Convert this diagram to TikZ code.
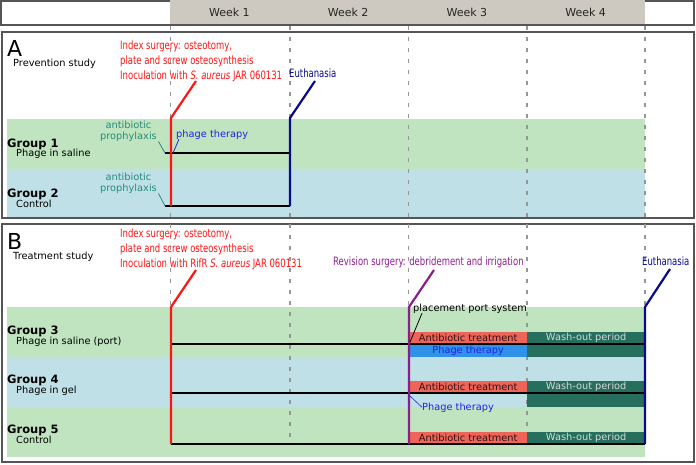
\documentclass[tikz,border=0pt]{standalone}
\usepackage{fontspec}
\setmainfont{DejaVu Sans}
\newfontfamily\narrowfont[FakeStretch=0.82]{DejaVu Sans Condensed}
\usepackage{xcolor}
\usepackage{tikz}
\usetikzlibrary{positioning}
\definecolor{framegray}{RGB}{85,85,85}
\definecolor{headgray}{RGB}{205,201,192}
\definecolor{rulegray}{RGB}{150,150,150}
\definecolor{bandgreen}{RGB}{192,228,192}
\definecolor{bandblue}{RGB}{191,224,230}
\definecolor{evred}{RGB}{255,20,20}
\definecolor{evnavy}{RGB}{10,10,140}
\definecolor{evpurple}{RGB}{140,30,140}
\definecolor{abteal}{RGB}{40,140,125}
\definecolor{phtext}{RGB}{35,35,225}
\definecolor{abxred}{RGB}{238,100,88}
\definecolor{abxtext}{RGB}{50,20,20}
\definecolor{phageblue}{RGB}{48,145,232}
\definecolor{washgreen}{RGB}{38,110,94}
\definecolor{washtext}{RGB}{215,215,215}
\tikzset{
  frame/.style={draw=framegray, line width=1.3pt},
  weeklbl/.style={font=\fontsize{11}{13}\selectfont, text=black!85},
  weekrule/.style={draw=rulegray, line width=1.6pt, dash pattern=on 4pt off 7pt},
  paneltag/.style={anchor=west, inner sep=0pt, font=\fontsize{22}{24}\selectfont},
  study/.style={anchor=base west, inner sep=0pt, font=\fontsize{9.8}{11}\selectfont},
  grp/.style={anchor=base west, inner sep=0pt, font=\fontsize{11.5}{12}\selectfont\bfseries},
  grpsub/.style={anchor=base west, inner sep=0pt, font=\fontsize{9.8}{11}\selectfont},
  evtext/.style={anchor=north west, inner sep=0pt, align=left,
    font=\narrowfont\fontsize{11.5}{15}\selectfont},
  evlbl/.style={anchor=base west, inner sep=0pt, font=\narrowfont\fontsize{11.5}{15}\selectfont},
  evline/.style={line width=2.2pt},
  tline/.style={line width=2.2pt, draw=black},
  note/.style={inner sep=0pt, font=\fontsize{9.8}{11}\selectfont},
  lead/.style={line width=0.8pt},
  boxx/.style={inner sep=0pt, minimum width=118pt, minimum height=12pt,
    font=\fontsize{9.8}{11}\selectfont, anchor=south west},
  abx/.style={boxx, fill=abxred, text=abxtext},
  phbox/.style={boxx, fill=phageblue, text=phtext, minimum height=13pt, anchor=north west},
  wash/.style={boxx, fill=washgreen, text=washtext},
}
\begin{document}
\begin{tikzpicture}[x=1pt, y=-1pt]
\useasboundingbox (0,0) rectangle (696,464);

% header with weeks
\draw[frame] (1,1) rectangle (694,25);
\fill[headgray] (170,0) rectangle (645,24.3);
\foreach \w in {1,...,4}
  \node[weeklbl] (wk\w) at ({170+118.75*(\w-0.5)},12.5) {Week \w};

% panels and group bands
\draw[frame] (2,32) rectangle (694,218);
\draw[frame] (2,224) rectangle (694,462);
\fill[bandgreen] (7,119) rectangle (645,169);
\fill[bandblue] (7,169) rectangle (645,217.3);
\fill[bandgreen] (7,307) rectangle (645,357);
\fill[bandblue] (7,357) rectangle (645,407);
\fill[bandgreen] (7,407) rectangle (645,457);
\foreach \x in {170.5,290,408.5,527,645}
  \draw[weekrule] (\x,26) -- (\x,444);

% A: prevention study
\node[paneltag] (tagA) at (7,48) {A};
\node[study] (studyA) at (13,66) {Prevention study};
\node[grp] (grp1) at (7,147) {Group 1};
\node[grpsub] (sub1) at (16,156.5) {Phage in saline};
\node[grp] (grp2) at (7,197.5) {Group 2};
\node[grpsub] (sub2) at (16,207) {Control};

\node[evtext, text=evred] (idxtxtA) at (120,40.3)
  {Index surgery: osteotomy,\\plate and screw osteosynthesis\\
   Inoculation with \textit{S. aureus} JAR 060131};
\node[evlbl, text=evnavy] (euthA) at (289,77) {Euthanasia};
\node[note, text=abteal, anchor=north, align=center] (abpA1) at (128.5,120.6)
  {antibiotic\\prophylaxis};
\node[note, text=abteal, anchor=north, align=center] (abpA2) at (128.5,172.6)
  {antibiotic\\prophylaxis};
\node[note, text=phtext, anchor=base west] (phA) at (176,137) {phage therapy};

\coordinate (g1a) at (165,153);
\coordinate (g1b) at (290,153);
\coordinate (g2a) at (165,206);
\coordinate (g2b) at (290,206);
\coordinate (idxA) at (196,81);
\coordinate (idxAk) at (171,118);
\coordinate (euA) at (315,81);
\coordinate (euAk) at (290,118);

\draw[tline] (g1a) -- (g1b);
\draw[tline] (g2a) -- (g2b);
\draw[lead, abteal] ([xshift=1.5pt]abpA1.south east) -- (g1a);
\draw[lead, abteal] ([xshift=1.5pt]abpA2.south east) -- (g2a);
\draw[evline, evred] (idxA) -- (idxAk) -- (idxAk |- g2a);
\draw[evline, evnavy] (euA) -- (euAk) -- (g2b);
\draw[lead, phtext] ([xshift=3pt]phA.south west) -- (173,153);

% B: treatment study
\node[paneltag] (tagB) at (7,241) {B};
\node[study] (studyB) at (13,259) {Treatment study};
\node[grp] (grp3) at (7,334.5) {Group 3};
\node[grpsub] (sub3) at (16,344) {Phage in saline (port)};
\node[grp] (grp4) at (7,383.5) {Group 4};
\node[grpsub] (sub4) at (16,393) {Phage in gel};
\node[grp] (grp5) at (7,433.5) {Group 5};
\node[grpsub] (sub5) at (16,443) {Control};

\node[evtext, text=evred] (idxtxtB) at (120,228.3)
  {Index surgery: osteotomy,\\plate and screw osteosynthesis\\
   Inoculation with RifR \textit{S. aureus} JAR 060131};
\node[evlbl, text=evpurple] (revtxt) at (333,265)
  {Revision surgery: debridement and irrigation};
\node[evlbl, text=evnavy] (euthB) at (642,265) {Euthanasia};

\node[abx] (abx3) at (409,344) {Antibiotic treatment};
\node[phbox] (ph3) at (409,344) {Phage therapy};
\node[wash] (wo3) at (527,344) {Wash-out period};
\node[wash, anchor=north west, minimum height=13pt] (wo3b) at (527,344) {};
\node[abx] (abx4) at (409,393) {Antibiotic treatment};
\node[wash] (wo4) at (527,393) {Wash-out period};
\node[wash, anchor=north west, minimum height=14pt] (wo4b) at (527,393) {};
\node[abx] (abx5) at (409,444) {Antibiotic treatment};
\node[wash] (wo5) at (527,444) {Wash-out period};

\node[note, anchor=base west] (port) at (413,311) {placement port system};
\node[note, text=phtext, anchor=base west] (phB) at (422,410) {Phage therapy};

\coordinate (g3a) at (171,344);
\coordinate (g3b) at (645,344);
\coordinate (g4a) at (171,393);
\coordinate (g4b) at (645,393);
\coordinate (g5a) at (171,444);
\coordinate (g5b) at (645,444);
\coordinate (idxB) at (196,270);
\coordinate (idxBk) at (171,307);
\coordinate (revB) at (434,270);
\coordinate (revBk) at (409,307);
\coordinate (euB) at (670,269);
\coordinate (euBk) at (645,307);

\draw[tline] (g3a) -- (g3b);
\draw[tline] (g4a) -- (g4b);
\draw[tline] (g5a) -- (g5b);
\draw[evline, evred] (idxB) -- (idxBk) -- (g5a);
\draw[evline, evpurple] (revB) -- (revBk) -- (revBk |- g5a);
\draw[evline, evnavy] (euB) -- (euBk) -- (g5b);
\draw[lead, black] ([xshift=9pt]port.south west) -- (410,342);
\draw[lead, phtext, line width=0.6pt] (phB.west) -- (409,395);
\end{tikzpicture}
\end{document}
